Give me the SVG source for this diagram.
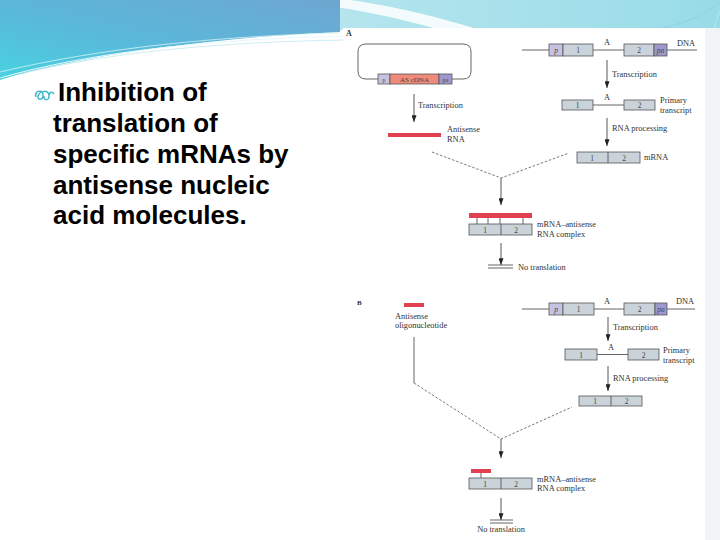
<svg xmlns="http://www.w3.org/2000/svg" width="720" height="540" viewBox="0 0 720 540">
<style>
.lbl{font-family:"Liberation Serif","DejaVu Serif",serif;font-size:8.4px;fill:#333}
.num{font-family:"Liberation Serif","DejaVu Serif",serif;font-size:7.5px;fill:#444;text-anchor:middle}
.ln{stroke:#555;stroke-width:0.9;fill:none}
.dash{stroke:#555;stroke-width:0.8;fill:none;stroke-dasharray:2.5 1.8}
.box{fill:#c9d3d9;stroke:#555;stroke-width:0.8}
.pbox{fill:#c6c2e2;stroke:#555;stroke-width:0.8}
.pabox{fill:#9e98cc;stroke:#555;stroke-width:0.8}
.red{fill:#e0404f}
.arr{stroke:#444;stroke-width:0.9;fill:none;marker-end:url(#ah)}
.main{font-family:"Liberation Sans",Arial,sans-serif;font-weight:bold;font-size:26px;fill:#000}
</style>
<defs>
<marker id="ah" viewBox="0 0 8 6" refX="8" refY="3" markerWidth="7" markerHeight="5" markerUnits="userSpaceOnUse" orient="auto">
<path d="M0,0 L8,3 L0,6 z" fill="#222"/>
</marker>
<linearGradient id="gBlue" x1="0" y1="1" x2="1" y2="0">
<stop offset="0" stop-color="#48d2e0"/>
<stop offset="0.45" stop-color="#5ab8da"/>
<stop offset="1" stop-color="#6ea6d0"/>
</linearGradient>
<linearGradient id="gCyan" x1="0" y1="0" x2="1" y2="0">
<stop offset="0" stop-color="#b8e6ee"/>
<stop offset="1" stop-color="#98dce8"/>
</linearGradient>
</defs>
<rect x="0" y="0" width="720" height="540" fill="#ffffff"/>
<g id="header">
<path d="M300,0 H720 V30 H300 Z" fill="url(#gCyan)"/>
<path d="M290,0 C350,8 400,18 440,30 L480,30 C430,14 380,4 350,0 Z" fill="#ffffff" opacity="0.85"/>
<path d="M0,0 H340 V32 C240,36 90,52 0,80 Z" fill="url(#gBlue)"/>
<path d="M0,78 C90,52 220,38 345,36" stroke="#e8f8fb" stroke-width="1.2" fill="none"/>
<path d="M0,72 C100,48 220,36 340,33" stroke="#d4f2f6" stroke-width="0.8" fill="none"/>
<path d="M20,74 C120,50 230,42 345,40" stroke="#bfe8f0" stroke-width="0.8" fill="none"/>
<path d="M720,2 C700,18 680,26 640,32" stroke="#8fd4e2" stroke-width="1" fill="none"/>
<path d="M720,10 C708,40 712,60 706,80" stroke="#b6e4ec" stroke-width="1" fill="none"/>
<path d="M718,30 C712,50 714,64 708,76" stroke="#cdeef3" stroke-width="1" fill="none"/>
</g>
<rect x="705" y="28" width="15" height="512" fill="#f1f4f6"/>
<rect x="343" y="28" width="362" height="507" fill="#ffffff"/>
<g id="title">
<path d="M36,97 C34,91 42,89 43,94 C44,100 37,101 38,96 C40,90 48,90 49,95 C50,101 43,101 44,96 M49,95 C50,91 53,92 54,94" stroke="#3fb8c8" stroke-width="1.5" fill="none"/>
<text class="main" x="58" y="101">Inhibition of</text>
<text class="main" x="53" y="132">translation of</text>
<text class="main" x="53" y="163">specific mRNAs by</text>
<text class="main" x="53" y="194">antisense nucleic</text>
<text class="main" x="53" y="224">acid molecules.</text>
</g>
<g id="panelA">
<text x="346" y="36" style="font-family:'Liberation Serif',serif;font-size:8px;font-weight:bold;fill:#333">A</text>
<g id="plasmid">
<path class="ln" d="M378,79 H366 Q358,79 358,71 V52 Q358,44 366,44 H463 Q471,44 471,52 V71 Q471,79 463,79 H452"/>
<rect class="pbox" x="378" y="74" width="12" height="10"/>
<rect x="390" y="74" width="49" height="10" fill="#f08a7a" stroke="#555" stroke-width="0.8"/>
<rect class="pabox" x="439" y="74" width="13" height="10"/>
<text class="num" x="384" y="81.5" style="font-size:6px">p</text>
<text class="num" x="414.5" y="81.5" style="font-size:7px">AS cDNA</text>
<text class="num" x="445.5" y="81.5" style="font-size:6px">pa</text>
</g>
<g id="antisenseRNA">
<rect class="red" x="388" y="133" width="53" height="4"/>
<text class="lbl" x="447" y="132">Antisense</text>
<text class="lbl" x="447" y="141.5">RNA</text>
</g>
<g id="dnaA">
<path class="ln" d="M522,50 H549 M593,50 H624 M667,50 H697"/>
<rect class="pbox" x="549" y="44" width="14" height="12"/>
<rect class="box" x="563" y="44" width="30" height="12"/>
<rect class="box" x="624" y="44" width="30" height="12"/>
<rect class="pabox" x="654" y="44" width="13" height="12"/>
<text class="num" x="556" y="53" font-style="italic">p</text>
<text class="num" x="578" y="53">1</text>
<text class="num" x="639" y="53">2</text>
<text class="num" x="660.5" y="53" font-style="italic">pa</text>
<text class="lbl" x="607" y="45" text-anchor="middle">A</text>
<text class="lbl" x="677" y="46">DNA</text>
</g>
<g id="primaryA">
<path class="ln" d="M593,105 H624"/>
<rect class="box" x="562" y="100" width="31" height="10"/>
<rect class="box" x="624" y="100" width="31" height="10"/>
<text class="num" x="577.5" y="108">1</text>
<text class="num" x="639.5" y="108">2</text>
<text class="lbl" x="607" y="100" text-anchor="middle">A</text>
<text class="lbl" x="660" y="103">Primary</text>
<text class="lbl" x="660" y="112.5">transcript</text>
</g>
<g id="mrnaA">
<rect class="box" x="577" y="152" width="63" height="11"/>
<path class="ln" d="M608,152 V163"/>
<text class="num" x="592" y="160.5">1</text>
<text class="num" x="624" y="160.5">2</text>
<text class="lbl" x="644" y="160">mRNA</text>
</g>
<g id="complexA">
<rect class="red" x="469" y="213" width="63" height="5"/>
<path class="ln" d="M477,218 V224 M488,218 V224 M500,218 V224 M523,218 V224"/>
<rect class="box" x="469" y="224" width="63" height="11"/>
<path class="ln" d="M501,224 V235"/>
<text class="num" x="485" y="232.5">1</text>
<text class="num" x="516" y="232.5">2</text>
<text class="lbl" x="537" y="227">mRNA–antisense</text>
<text class="lbl" x="537" y="236.5">RNA complex</text>
</g>
<g id="noTransA">
<path class="ln" d="M488,265 H513 M488,268 H513"/>
<text class="lbl" x="518" y="270">No translation</text>
</g>
</g>
<g id="panelB">
<text x="357" y="305" style="font-family:'Liberation Serif',serif;font-size:7px;font-weight:bold;fill:#333">B</text>
<g id="oligo">
<rect class="red" x="404" y="303" width="20" height="4"/>
<text class="lbl" x="395" y="318.5">Antisense</text>
<text class="lbl" x="395" y="328">oligonucleotide</text>
</g>
<g id="dnaB">
<path class="ln" d="M522,309 H549 M594,309 H624 M667,309 H695"/>
<rect class="pbox" x="549" y="303" width="14" height="12"/>
<rect class="box" x="563" y="303" width="31" height="12"/>
<rect class="box" x="624" y="303" width="31" height="12"/>
<rect class="pabox" x="655" y="303" width="12" height="12"/>
<text class="num" x="556" y="312" font-style="italic">p</text>
<text class="num" x="578.5" y="312">1</text>
<text class="num" x="639.5" y="312">2</text>
<text class="num" x="661" y="312" font-style="italic">pa</text>
<text class="lbl" x="607" y="304" text-anchor="middle">A</text>
<text class="lbl" x="676" y="304">DNA</text>
</g>
<g id="primaryB">
<path class="ln" d="M597,354.5 H628"/>
<rect class="box" x="565" y="349" width="32" height="11"/>
<rect class="box" x="628" y="349" width="31" height="11"/>
<text class="num" x="581" y="357.5">1</text>
<text class="num" x="643.5" y="357.5">2</text>
<text class="lbl" x="611" y="350" text-anchor="middle">A</text>
<text class="lbl" x="663" y="353">Primary</text>
<text class="lbl" x="663" y="362.5">transcript</text>
</g>
<g id="mrnaB">
<rect class="box" x="579" y="396" width="63" height="10"/>
<path class="ln" d="M611,396 V406"/>
<text class="num" x="595" y="404">1</text>
<text class="num" x="626.5" y="404">2</text>
</g>
<g id="complexB">
<rect class="red" x="471" y="469" width="20" height="4"/>
<path class="ln" d="M481,473 V478"/>
<rect class="box" x="469" y="478" width="63" height="11"/>
<path class="ln" d="M501,478 V489"/>
<text class="num" x="485" y="486.5">1</text>
<text class="num" x="516" y="486.5">2</text>
<text class="lbl" x="537" y="481.5">mRNA–antisense</text>
<text class="lbl" x="537" y="491">RNA complex</text>
</g>
<g id="noTransB">
<path class="ln" d="M490,520 H513 M490,523 H513"/>
<text class="lbl" x="501" y="532" text-anchor="middle">No translation</text>
</g>
</g>
<g id="connectors">
<path class="arr" d="M414,94 V122"/>
<text class="lbl" x="418" y="108">Transcription</text>
<path class="arr" d="M607,60 V88"/>
<text class="lbl" x="612" y="77">Transcription</text>
<path class="arr" d="M607,118 V146"/>
<text class="lbl" x="612" y="131">RNA processing</text>
<path class="dash" d="M432,152 L501,178 L569,153"/>
<path class="arr" d="M501,178 V205"/>
<path class="arr" d="M501,243 V265"/>
<path class="arr" d="M608,317 V341"/>
<text class="lbl" x="613" y="330">Transcription</text>
<path class="arr" d="M608,366 V391"/>
<text class="lbl" x="613" y="381">RNA processing</text>
<path class="ln" d="M414,337 V383"/>
<path class="dash" d="M414,383 L501,439 L572,407"/>
<path class="arr" d="M501,439 V458"/>
<path class="arr" d="M501,498 V520"/>
</g>
</svg>
